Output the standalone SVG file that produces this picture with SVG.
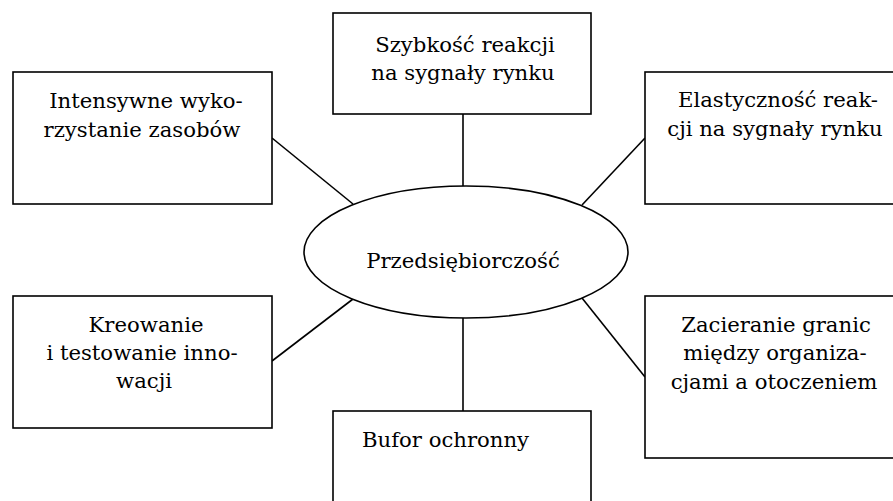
<svg xmlns="http://www.w3.org/2000/svg" width="893" height="501" viewBox="0 0 893 501">
<style>
.box{fill:#fff;stroke:#000;stroke-width:1.6}
.ln{stroke:#000;stroke-width:1.6;fill:none}
.t{font-family:'DejaVu Serif',serif;font-size:21.2px;fill:#000}
.c{text-anchor:middle}
</style>
<rect width="893" height="501" fill="#fff"/>
<g id="connectors">
<line class="ln" x1="463" y1="114" x2="463" y2="187"/>
<line class="ln" x1="272" y1="138" x2="353" y2="204"/>
<line class="ln" x1="645" y1="138" x2="582" y2="205"/>
<line class="ln" x1="272" y1="361" x2="353" y2="299"/>
<line class="ln" x1="645" y1="377" x2="582" y2="298"/>
<line class="ln" x1="463" y1="318" x2="463" y2="411"/>
</g>
<g id="center">
<ellipse class="box" cx="466" cy="252" rx="162" ry="66"/>
<text class="t c" x="463" y="268">Przedsiębiorczość</text>
</g>
<g id="top">
<rect class="box" x="333" y="13" width="258" height="101"/>
<text class="t c" x="465" y="52">Szybkość reakcji</text>
<text class="t c" x="463" y="80">na sygnały rynku</text>
</g>
<g id="top-left">
<rect class="box" x="13" y="72" width="259" height="132"/>
<text class="t c" x="146" y="108">Intensywne wyko-</text>
<text class="t c" x="142" y="137">rzystanie zasobów</text>
</g>
<g id="top-right">
<rect class="box" x="645" y="72" width="270" height="132"/>
<text class="t c" x="778" y="107">Elastyczność reak-</text>
<text class="t c" x="775" y="136">cji na sygnały rynku</text>
</g>
<g id="bottom-left">
<rect class="box" x="13" y="296" width="259" height="132"/>
<text class="t c" x="146" y="332">Kreowanie</text>
<text class="t c" x="142" y="360">i testowanie inno-</text>
<text class="t c" x="144" y="388">wacji</text>
</g>
<g id="bottom-right">
<rect class="box" x="645" y="296" width="270" height="162"/>
<text class="t c" x="776" y="332">Zacieranie granic</text>
<text class="t c" x="775" y="360">między organiza-</text>
<text class="t c" x="774" y="389">cjami a otoczeniem</text>
</g>
<g id="bottom">
<rect class="box" x="333" y="411" width="258" height="110"/>
<text class="t" x="362" y="447">Bufor ochronny</text>
</g>
</svg>
